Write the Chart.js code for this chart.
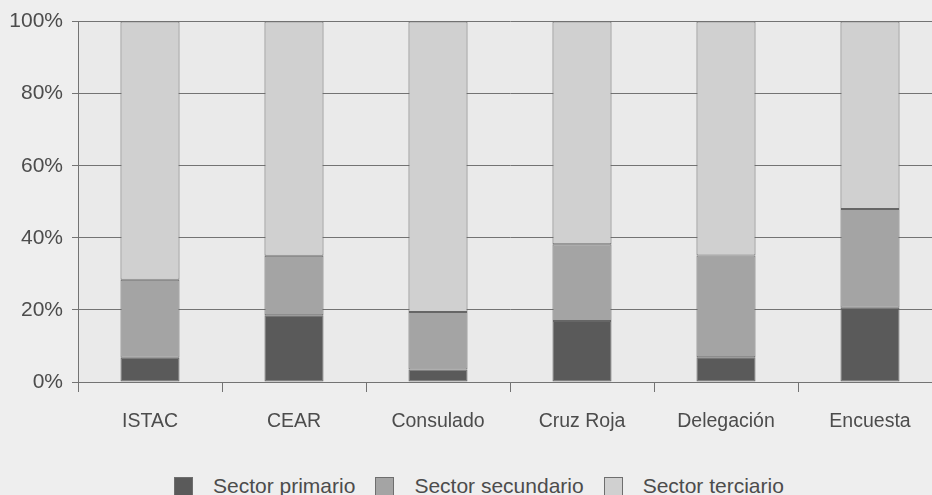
<!DOCTYPE html>
<html>
<head>
<meta charset="utf-8">
<script src="https://cdn.jsdelivr.net/npm/chart.js@4"></script>
<style>
  html, body { margin: 0; padding: 0; background: #eeeeee; overflow: hidden; }
  #wrap { position: relative; width: 932px; height: 495px; overflow: hidden; }
  #chart { position: absolute; left: 0; top: 0; }
  #legend {
    position: absolute; left: 174px; top: 474px;
    display: flex; align-items: center;
    font-family: "Liberation Sans", Arial, sans-serif; font-size: 21px; color: #4c4c4c;
  }
  #legend .item { display: flex; align-items: center; margin-right: 20px; white-space: nowrap; }
  #legend .box { width: 17px; height: 17px; border: 1px solid #6e6e6e; margin-right: 20px; box-sizing: content-box; }
</style>
</head>
<body>
<div id="wrap">
  <canvas id="chart" width="960" height="440"></canvas>
  <div id="legend"></div>
</div>
<script>
/* ===============================
   datos
================================ */
const categories = ['ISTAC', 'CEAR', 'Consulado', 'Cruz Roja', 'Delegación', 'Encuesta'];
const seriesNames = ['Sector primario', 'Sector secundario', 'Sector terciario'];
const primario = [6.7, 18.5, 3.5, 16.9, 6.9, 20.6];
const secundario = [21.7, 16.5, 15.9, 21.3, 28.2, 27.4];
const terciario = [71.6, 65.0, 80.6, 61.8, 64.9, 52.0];
const yTicks = [0, 20, 40, 60, 80, 100];

const colors = ['#5a5a5a', '#a4a4a4', '#d0d0d0'];
const lineColor = '#737373';

/* fondo del área del gráfico */
const plotBg = {
  id: 'plotBg',
  beforeDraw(chart) {
    const { ctx, chartArea: a } = chart;
    ctx.save();
    ctx.fillStyle = '#eaeaea';
    ctx.fillRect(a.left, a.top, a.right - a.left, a.bottom - a.top);
    ctx.restore();
  }
};

const ctx = document.getElementById('chart').getContext('2d');

const chart = new Chart(ctx, {
  type: 'bar',
  data: {
    labels: categories,
    datasets: [primario, secundario, terciario].map((d, i) => ({
      label: seriesNames[i],
      data: d,
      backgroundColor: colors[i],
      borderColor: '#666666',
      borderWidth: 1,
      borderSkipped: false,
      barPercentage: 0.41,
      categoryPercentage: 1
    }))
  },
  options: {
    responsive: false,
    animation: false,
    layout: { padding: { top: 20, right: 18, left: 0, bottom: 0 } },
    plugins: {
      legend: { display: false },
      tooltip: { enabled: false }
    },
    scales: {
      x: {
        stacked: true,
        grid: {
          drawOnChartArea: false,
          drawTicks: true,
          tickLength: 10,
          color: lineColor
        },
        border: { color: lineColor },
        ticks: {
          color: '#4c4c4c',
          padding: 18,
          font: { family: '"Liberation Sans", Arial, sans-serif', size: 19.5 }
        },
        afterFit(scale) { scale.height = 58; }
      },
      y: {
        stacked: true,
        min: 0,
        max: 100,
        afterBuildTicks(scale) { scale.ticks = yTicks.map(v => ({ value: v })); },
        grid: { color: lineColor, tickLength: 6 },
        border: { color: lineColor },
        ticks: {
          color: '#4c4c4c',
          padding: 9,
          callback: v => v + '%',
          font: { family: '"Liberation Sans", Arial, sans-serif', size: 21 }
        },
        afterFit(scale) { scale.width = 78; }
      }
    }
  },
  plugins: [plotBg]
});

/* leyenda */
const legend = document.getElementById('legend');
seriesNames.forEach((name, i) => {
  const item = document.createElement('div');
  item.className = 'item';
  const box = document.createElement('span');
  box.className = 'box';
  box.style.background = colors[i];
  const txt = document.createElement('span');
  txt.textContent = name;
  item.appendChild(box);
  item.appendChild(txt);
  legend.appendChild(item);
});
</script>
</body>
</html>
